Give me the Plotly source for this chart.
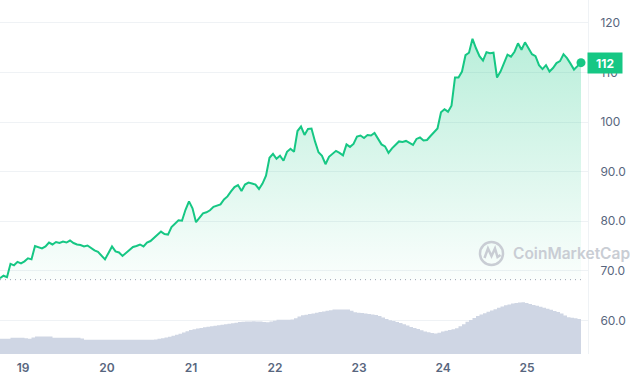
import plotly.graph_objects as go
import pandas as pd

# ---- data (hourly) ----
START = "2024-01-18 17:25"
BASELINE = 68.2   # opening reference price (dotted line)
LAST_LABEL = "112"

PRICE = [
    68.5, 69.0, 68.7, 71.4, 71.1, 71.8, 71.5, 71.9, 72.5, 72.3,
    75.0, 74.7, 74.5, 74.9, 75.7, 75.3, 75.8, 75.6, 75.9, 75.7,
    76.1, 75.6, 75.3, 75.2, 74.9, 75.1, 74.5, 74.1, 73.8, 73.0,
    72.3, 73.6, 74.9, 73.9, 73.7, 73.0, 73.6, 74.2, 74.8, 75.0,
    75.3, 74.9, 75.7, 76.0, 76.6, 77.3, 77.9, 77.4, 77.3, 78.8,
    79.6, 80.2, 80.1, 82.3, 84.0, 82.6, 79.8, 80.7, 81.6, 81.8,
    82.2, 82.9, 83.1, 83.4, 84.4, 85.0, 86.0, 86.9, 87.3, 86.1,
    87.4, 87.8, 87.6, 87.4, 86.5, 87.6, 89.2, 92.8, 93.6, 92.6,
    93.2, 92.2, 94.0, 94.6, 94.0, 98.2, 99.1, 97.4, 98.6, 98.7,
    96.1, 93.9, 93.2, 91.5, 93.0, 93.7, 94.2, 93.8, 93.3, 95.5,
    95.0, 95.6, 97.1, 97.3, 96.8, 97.4, 97.3, 97.8, 96.6, 95.5,
    95.1, 93.8, 94.7, 95.5, 96.1, 96.0, 96.2, 95.8, 95.4, 96.6,
    96.9, 96.3, 96.4, 97.2, 97.9, 98.7, 102.0, 102.6, 102.1, 103.3,
    109.0, 109.0, 110.2, 113.5, 114.0, 116.8, 114.9, 113.3, 112.4, 114.1,
    113.9, 114.0, 109.0, 110.2, 111.9, 113.6, 113.2, 114.2, 115.9, 114.6,
    116.1, 115.0, 113.7, 113.3, 111.5, 110.7, 111.5, 110.2, 110.9, 111.9,
    112.3, 113.7, 112.9, 111.8, 110.6, 111.3, 112.0,
]

VOLUME = [
    152, 152, 152, 162, 162, 162, 162, 158, 152, 165,
    175, 175, 175, 175, 175, 162, 162, 162, 162, 162,
    162, 162, 162, 155, 142, 142, 142, 142, 142, 142,
    142, 142, 142, 142, 142, 142, 142, 142, 142, 142,
    142, 142, 142, 142, 146, 152, 158, 165, 172, 182,
    192, 203, 214, 227, 239, 247, 254, 261, 267, 272,
    277, 283, 288, 293, 298, 303, 308, 313, 319, 323,
    325, 326, 328, 326, 324, 321, 318, 325, 333, 342,
    342, 342, 342, 344, 358, 375, 387, 393, 399, 406,
    412, 419, 426, 432, 438, 444, 445, 445, 445, 445,
    432, 418, 413, 409, 405, 401, 395, 389, 381, 366,
    350, 338, 329, 320, 310, 298, 284, 270, 259, 249,
    238, 226, 217, 209, 204, 213, 224, 232, 240, 248,
    258, 278, 298, 323, 340, 359, 379, 395, 408, 422,
    435, 448, 462, 475, 487, 496, 504, 510, 514, 518,
    510, 500, 491, 482, 472, 463, 453, 442, 431, 420,
    404, 385, 368, 362, 357, 350, 325,
]

Y_TICKS = [60, 70, 80, 90, 100, 110, 120]
Y_TICK_TEXT = ["60.0", "70.0", "80.0", "90.0", "100", "110", "120"]

# ---- style ----
GREEN = "#16c784"
GREY_TXT = "#58667e"
GRID = "#eff2f5"
VOL_COLOR = "#cfd6e4"
WM = "#c9cdd4"

times = pd.date_range(START, periods=len(PRICE), freq="h")

fig = go.Figure()
fig.add_trace(go.Scatter(
    x=times, y=VOLUME, yaxis="y2", mode="lines",
    line=dict(width=0, color=VOL_COLOR, shape="hv"),
    fill="tozeroy", fillcolor=VOL_COLOR, hoverinfo="skip"))
fig.add_trace(go.Scatter(
    x=times, y=[BASELINE] * len(times), mode="lines",
    line=dict(width=0), hoverinfo="skip"))
fig.add_trace(go.Scatter(
    x=times, y=PRICE, mode="lines",
    line=dict(color=GREEN, width=2),
    fill="tonexty",
    fillgradient=dict(type="vertical", start=BASELINE, stop=117,
                      colorscale=[[0, "rgba(22,199,132,0.02)"],
                                  [1, "rgba(22,199,132,0.30)"]])))
fig.add_trace(go.Scatter(
    x=[times[-1]], y=[PRICE[-1]], mode="markers",
    marker=dict(size=9, color=GREEN)))

W_PLOT, H_PLOT = 588, 354


def paper(x, y):
    return x / W_PLOT, (H_PLOT - y) / H_PLOT


# logo
cx0, cy0 = paper(480, 265)
cx1, cy1 = paper(503, 242)
pts = [(484.5, 258), (488, 248.5), (491.5, 256), (495, 248.5), (497.5, 257), (500.5, 255)]
path = "M " + " L ".join(f"{paper(a, b)[0]:.4f},{paper(a, b)[1]:.4f}" for a, b in pts)

shapes = [
    dict(type="line", xref="paper", yref="y", x0=0, x1=0.995, y0=BASELINE, y1=BASELINE,
         line=dict(color="#9aa3b2", width=1, dash="1px,4px")),
    dict(type="circle", xref="paper", yref="paper", x0=cx0, x1=cx1, y0=cy0, y1=cy1,
         line=dict(color=WM, width=2.5)),
    dict(type="path", xref="paper", yref="paper", path=path,
         line=dict(color=WM, width=2.5)),
]

wx, wy = paper(511, 254)
annotations = [
    dict(x=wx, y=wy, xref="paper", yref="paper", xanchor="left", yanchor="middle",
         text="CoinMarketCap", showarrow=False,
         font=dict(family="Inter", size=15.5, color=WM, weight=600)),
    dict(x=1, xref="paper", y=PRICE[-1], yref="y", xanchor="left", yanchor="middle",
         xshift=-1, text=LAST_LABEL, showarrow=False, bgcolor=GREEN,
         width=34, height=20, borderpad=0,
         font=dict(family="Inter", size=12, color="white", weight=700)),
]

fig.update_layout(
    width=630, height=380,
    margin=dict(l=0, r=42, t=0, b=26),
    paper_bgcolor="white", plot_bgcolor="white",
    showlegend=False,
    font=dict(family="Inter", size=12, color=GREY_TXT),
    xaxis=dict(type="date", range=["2024-01-18 17:25", "2024-01-25 17:25"],
               showgrid=False, zeroline=False, showline=False, ticks="",
               tickformat="%d", dtick=86400000, tick0="2024-01-19",
               ticklabelstandoff=5,
               tickfont=dict(size=12, color=GREY_TXT, weight=600)),
    yaxis=dict(side="right", range=[53.2, 124.64], tickvals=Y_TICKS, ticktext=Y_TICK_TEXT,
               gridcolor=GRID, zeroline=False, showline=True, linecolor=GRID,
               ticks="", ticklabelstandoff=9,
               tickfont=dict(size=12, color=GREY_TXT)),
    yaxis2=dict(overlaying="y", range=[0, 3540], visible=False),
    shapes=shapes,
    annotations=annotations,
)

fig.write_html("out.html",
               config={"displayModeBar": False},
               post_script="document.body.style.margin='0';document.body.style.padding='0';")
